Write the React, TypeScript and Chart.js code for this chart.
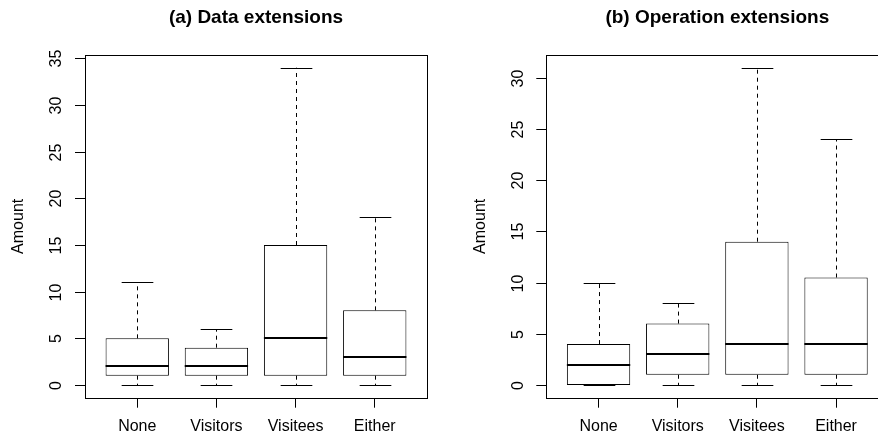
import React, { useEffect, useRef } from "react";
import { Chart, registerables } from "chart.js";

Chart.register(...registerables);

const FONT = "'Liberation Sans', Arial, Helvetica, sans-serif";

// ---- data ----
const categories = ["None", "Visitors", "Visitees", "Either"];
const categoryPositions = [1, 2, 3, 4];

const dataMin = [0, 0, 0, 0];
const dataQ1 = [1, 1, 1, 1];
const dataMedian = [2, 2, 5, 3];
const dataQ3 = [5, 4, 15, 8];
const dataMax = [11, 6, 34, 18];

const opMin = [0, 0, 0, 0];
const opQ1 = [0, 1, 1, 1];
const opMedian = [2, 3, 4, 4];
const opQ3 = [4, 6, 14, 10.5];
const opMax = [10, 8, 31, 24];

const dataYTicks = [0, 5, 10, 15, 20, 25, 30, 35];
const opYTicks = [0, 5, 10, 15, 20, 25, 30];

const dataYRange = [-1.36, 35.36];
const opYRange = [-1.24, 32.24];
const xRange = [0.34, 4.66];

const titleA = "(a) Data extensions";
const titleB = "(b) Operation extensions";
const yTitle = "Amount";

type Stats = { min: number[]; q1: number[]; med: number[]; q3: number[]; max: number[] };

const boxPlugin = {
  id: "rbox",
  beforeDatasetsDraw(chart: any, _a: any, opts: any) {
    const s: Stats = opts.stats;
    const { ctx, scales } = chart;
    const x = scales.x;
    const y = scales.y;
    const capHalf = Math.abs(x.getPixelForValue(1.2) - x.getPixelForValue(1));
    ctx.save();
    ctx.strokeStyle = "#000";
    ctx.lineWidth = 1;
    categoryPositions.forEach((p, i) => {
      const cx = Math.round(x.getPixelForValue(p)) + 0.5;
      ctx.setLineDash([4, 4]);
      ctx.beginPath();
      ctx.moveTo(cx, y.getPixelForValue(s.q3[i]));
      ctx.lineTo(cx, y.getPixelForValue(s.max[i]));
      ctx.moveTo(cx, y.getPixelForValue(s.q1[i]));
      ctx.lineTo(cx, y.getPixelForValue(s.min[i]));
      ctx.stroke();
      ctx.setLineDash([]);
      ctx.beginPath();
      const yMin = Math.round(y.getPixelForValue(s.min[i])) + 0.5;
      const yMax = Math.round(y.getPixelForValue(s.max[i])) + 0.5;
      ctx.moveTo(cx - capHalf, yMin);
      ctx.lineTo(cx + capHalf, yMin);
      ctx.moveTo(cx - capHalf, yMax);
      ctx.lineTo(cx + capHalf, yMax);
      ctx.stroke();
    });
    ctx.restore();
  },
  afterDatasetsDraw(chart: any, _a: any, opts: any) {
    const s: Stats = opts.stats;
    const { ctx, scales } = chart;
    const y = scales.y;
    const meta = chart.getDatasetMeta(0);
    ctx.save();
    ctx.strokeStyle = "#000";
    ctx.lineWidth = 2;
    meta.data.forEach((el: any, i: number) => {
      const py = Math.round(y.getPixelForValue(s.med[i]));
      ctx.beginPath();
      ctx.moveTo(el.x - el.width / 2, py);
      ctx.lineTo(el.x + el.width / 2, py);
      ctx.stroke();
    });
    ctx.restore();
  },
  afterDraw(chart: any, _a: any, opts: any) {
    const { ctx, chartArea, scales } = chart;
    const y = scales.y;
    const { left, right, top, bottom } = chartArea;
    ctx.save();
    ctx.strokeStyle = "#000";
    ctx.lineWidth = 1;
    // frame
    ctx.strokeRect(Math.round(left) + 0.5, Math.round(top) + 0.5, Math.round(right - left), Math.round(bottom - top));
    // y ticks and rotated labels
    ctx.fillStyle = "#000";
    ctx.font = `16px ${FONT}`;
    ctx.textAlign = "center";
    ctx.textBaseline = "middle";
    y.ticks.forEach((t: any) => {
      const py = Math.round(y.getPixelForValue(t.value)) + 0.5;
      ctx.beginPath();
      ctx.moveTo(left - 10, py);
      ctx.lineTo(left, py);
      ctx.stroke();
      ctx.save();
      ctx.translate(left - 28, py);
      ctx.rotate(-Math.PI / 2);
      ctx.fillText(String(t.value), 0, 0);
      ctx.restore();
    });
    // axis title
    ctx.save();
    ctx.translate(left - 66, (top + bottom) / 2);
    ctx.rotate(-Math.PI / 2);
    ctx.fillText(opts.yTitle, 0, 0);
    ctx.restore();
    ctx.restore();
  },
};

function makeConfig(title: string, stats: Stats, yTicks: number[], yRange: number[], yAxisWidth: number, padRight: number): any {
  return {
    type: "bar",
    data: {
      datasets: [
        {
          data: categoryPositions.map((p, i) => ({ x: p, y: [stats.q1[i], stats.q3[i]] })),
          backgroundColor: "#ffffff",
          borderColor: "#000000",
          borderWidth: 1,
          borderSkipped: false,
          barPercentage: 0.8,
          categoryPercentage: 1,
        },
      ],
    },
    options: {
      responsive: false,
      animation: false,
      devicePixelRatio: 1,
      layout: { padding: { left: 0, right: padRight, top: 0, bottom: 0 }, autoPadding: false },
      scales: {
        x: {
          type: "linear",
          min: xRange[0],
          max: xRange[1],
          offset: false,
          afterBuildTicks: (s: any) => {
            s.ticks = categoryPositions.map((v) => ({ value: v }));
          },
          afterFit: (s: any) => {
            s.height = 39.3;
          },
          grid: {
            display: true,
            offset: false,
            drawOnChartArea: false,
            drawTicks: true,
            tickLength: 10,
            color: "#000",
            lineWidth: 1,
          },
          border: { display: false },
          ticks: {
            font: { family: FONT, size: 16 },
            color: "#000",
            padding: 9,
            maxRotation: 0,
            minRotation: 0,
            autoSkip: false,
            callback: (v: number) => categories[Math.round(v) - 1] ?? "",
          },
        },
        y: {
          type: "linear",
          min: yRange[0],
          max: yRange[1],
          afterBuildTicks: (s: any) => {
            s.ticks = yTicks.map((v) => ({ value: v }));
          },
          afterFit: (s: any) => {
            s.width = yAxisWidth;
          },
          grid: { display: false },
          border: { display: false },
          ticks: { display: false },
        },
      },
      plugins: {
        legend: { display: false },
        tooltip: { enabled: false },
        title: {
          display: true,
          text: title,
          fullSize: false,
          color: "#000",
          font: { family: FONT, size: 19, weight: "bold" },
          padding: { top: 6.6, bottom: 25.6 },
        },
        rbox: { stats, yTitle },
      },
    },
    plugins: [boxPlugin],
  };
}

function Panel(props: { left: number; width: number; config: any }) {
  const ref = useRef<HTMLCanvasElement | null>(null);
  useEffect(() => {
    if (!ref.current) return;
    const chart = new Chart(ref.current, props.config);
    return () => chart.destroy();
  }, []);
  return (
    <canvas
      ref={ref}
      width={props.width}
      height={437}
      style={{ position: "absolute", left: props.left, top: 0, width: props.width, height: 437, display: "block" }}
    />
  );
}

export default function App() {
  const cfgA = makeConfig(
    titleA,
    { min: dataMin, q1: dataQ1, med: dataMedian, q3: dataQ3, max: dataMax },
    dataYTicks,
    dataYRange,
    85,
    12
  );
  const cfgB = makeConfig(
    titleB,
    { min: opMin, q1: opQ1, med: opMedian, q3: opQ3, max: opMax },
    opYTicks,
    opYRange,
    107.3,
    0.7
  );
  return (
    <div
      style={{
        position: "fixed",
        left: 0,
        top: 0,
        width: 878,
        height: 437,
        overflow: "hidden",
        background: "#fff",
      }}
    >
      <Panel left={0} width={439} config={cfgA} />
      <Panel left={439} width={450} config={cfgB} />
    </div>
  );
}
